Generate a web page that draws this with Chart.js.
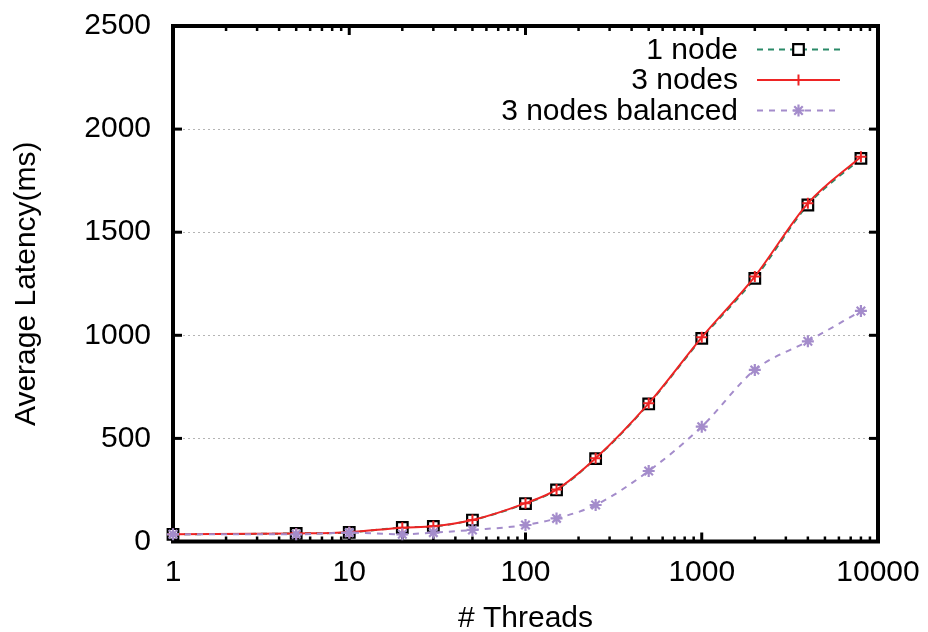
<!DOCTYPE html>
<html>
<head>
<meta charset="utf-8">
<script src="https://cdn.jsdelivr.net/npm/chart.js@4/dist/chart.umd.min.js"></script>
<style>
html,body{margin:0;padding:0;background:#fff;}
#wrap{width:928px;height:632px;}
</style>
</head>
<body>
<div id="wrap"><canvas id="c" width="928" height="632"></canvas></div>
<script>
const threads = [1, 5, 10, 20, 30, 50, 100, 150, 250, 500, 1000, 2000, 4000, 8000];
const oneNode = [35, 39, 44, 68, 73, 104, 184, 250, 402, 667, 985, 1276, 1632, 1858];
const threeNodes = [35, 39, 45, 67, 74, 104, 186, 252, 404, 670, 990, 1285, 1640, 1866];
const threeNodesBalanced = [35, 35, 43, 35, 43, 56, 80, 112, 177, 342, 557, 832, 971, 1118];
const seriesLabels = ['1 node', '3 nodes', '3 nodes balanced'];
const yTicks = [0, 500, 1000, 1500, 2000, 2500];
const xTicks = [1, 10, 100, 1000, 10000];
const xTitle = '# Threads';
const yTitle = 'Average Latency(ms)';

const FONT = '"Liberation Sans", Arial, Helvetica, sans-serif';

function pts(vals) { return threads.map((t, i) => ({x: t, y: vals[i]})); }

const framePlugin = {
  id: 'frame',
  beforeDatasetsDraw(chart) {
    const {ctx, chartArea: a, scales: {x, y}} = chart;
    ctx.save();
    ctx.strokeStyle = '#000';
    ctx.lineCap = 'butt';
    function ln(x1, y1, x2, y2, w) {
      ctx.lineWidth = w;
      ctx.beginPath(); ctx.moveTo(x1, y1); ctx.lineTo(x2, y2); ctx.stroke();
    }
    for (const v of yTicks) {
      const py = y.getPixelForValue(v);
      ln(a.left, py, a.left + 9, py, 3);
      ln(a.right, py, a.right - 9, py, 3);
    }
    const xmin = x.min, xmax = x.max;
    for (let d = xmin; d < xmax; d *= 10) {
      for (let m = 1; m < 10; m++) {
        const v = d * m;
        const px = x.getPixelForValue(v);
        const len = m === 1 ? 9 : 5;
        const w = m === 1 ? 3 : 2.5;
        ln(px, a.bottom, px, a.bottom - len, w);
        ln(px, a.top, px, a.top + len, w);
      }
    }
    ctx.lineWidth = 4;
    ctx.strokeRect(a.left, a.top, a.right - a.left, a.bottom - a.top);
    ctx.restore();
  }
};

const legendPlugin = {
  id: 'gpLegend',
  afterDatasetsDraw(chart) {
    const {ctx} = chart;
    const rows = [49.5, 80, 110.5];
    const textRight = 738, lx1 = 757, lx2 = 840, mx = 798.5;
    ctx.save();
    chart.data.datasets.forEach((ds, i) => {
      const ry = rows[i];
      ctx.font = '30px ' + FONT;
      ctx.fillStyle = '#000';
      ctx.textAlign = 'right';
      ctx.textBaseline = 'middle';
      ctx.fillText(ds.label, textRight, ry + 1);
      ctx.strokeStyle = ds.borderColor;
      ctx.lineWidth = ds.borderWidth;
      ctx.setLineDash(ds.borderDash || []);
      ctx.beginPath(); ctx.moveTo(lx1, ry); ctx.lineTo(lx2, ry); ctx.stroke();
      ctx.setLineDash([]);
      ctx.strokeStyle = ds.pointBorderColor;
      ctx.fillStyle = ds.pointBackgroundColor;
      ctx.lineWidth = ds.pointBorderWidth;
      Chart.helpers.drawPoint(ctx, {pointStyle: ds.pointStyle, radius: ds.pointRadius, borderWidth: ds.pointBorderWidth, rotation: 0}, mx, ry);
    });
    ctx.restore();
  }
};

new Chart(document.getElementById('c'), {
  type: 'line',
  data: {
    datasets: [
      {
        label: seriesLabels[0], data: pts(oneNode), order: 3,
        borderColor: '#2a8a68', borderWidth: 2, borderDash: [6, 5],
        pointStyle: 'rect', pointRadius: 7.5, pointBorderWidth: 2.2,
        pointBorderColor: '#000', pointBackgroundColor: '#fff',
        cubicInterpolationMode: 'monotone', clip: false
      },
      {
        label: seriesLabels[1], data: pts(threeNodes), order: 2,
        borderColor: '#ee2424', borderWidth: 2,
        pointStyle: 'cross', pointRadius: 5.5, pointBorderWidth: 2,
        pointBorderColor: '#ee2424', pointBackgroundColor: '#ee2424',
        cubicInterpolationMode: 'monotone', clip: false
      },
      {
        label: seriesLabels[2], data: pts(threeNodesBalanced), order: 1,
        borderColor: '#a48ccb', borderWidth: 2, borderDash: [6, 6],
        pointStyle: 'star', pointRadius: 6, pointBorderWidth: 2.2,
        pointBorderColor: '#a48ccb', pointBackgroundColor: '#a48ccb',
        cubicInterpolationMode: 'monotone', clip: false
      }
    ]
  },
  options: {
    responsive: false,
    animation: false,
    events: [],
    layout: {padding: {left: 0, right: 50, top: 26, bottom: 0}},
    plugins: {legend: {display: false}, tooltip: {enabled: false}},
    scales: {
      x: {
        type: 'logarithmic',
        min: xTicks[0], max: xTicks[xTicks.length - 1],
        afterBuildTicks(scale) { scale.ticks = xTicks.map(v => ({value: v, major: true})); },
        afterFit(scale) { scale.height = 90.5; scale.paddingLeft = 0; scale.paddingRight = 0; },
        grid: {display: false, drawTicks: false},
        border: {display: false},
        ticks: {
          padding: 13, color: '#000', maxRotation: 0, autoSkip: false,
          font: {family: FONT, size: 30},
          callback: (v) => String(v)
        },
        title: {display: true, text: xTitle, color: '#000', font: {family: FONT, size: 30, lineHeight: 0.9}, padding: {top: 0, bottom: 0}}
      },
      y: {
        type: 'linear',
        min: yTicks[0], max: yTicks[yTicks.length - 1],
        afterBuildTicks(scale) { scale.ticks = yTicks.map(v => ({value: v})); },
        afterFit(scale) { scale.width = 173; scale.paddingTop = 0; scale.paddingBottom = 0; },
        grid: {color: '#b4b4b4', lineWidth: 1, drawTicks: false},
        border: {display: false, dash: [2, 3]},
        ticks: {padding: 22, color: '#000', font: {family: FONT, size: 30}, callback: (v) => String(v)},
        title: {display: true, text: yTitle, color: '#000', font: {family: FONT, size: 30, lineHeight: 1.2}, padding: {top: 9, bottom: 0}}
      }
    }
  },
  plugins: [framePlugin, legendPlugin]
});
</script>
</body>
</html>
